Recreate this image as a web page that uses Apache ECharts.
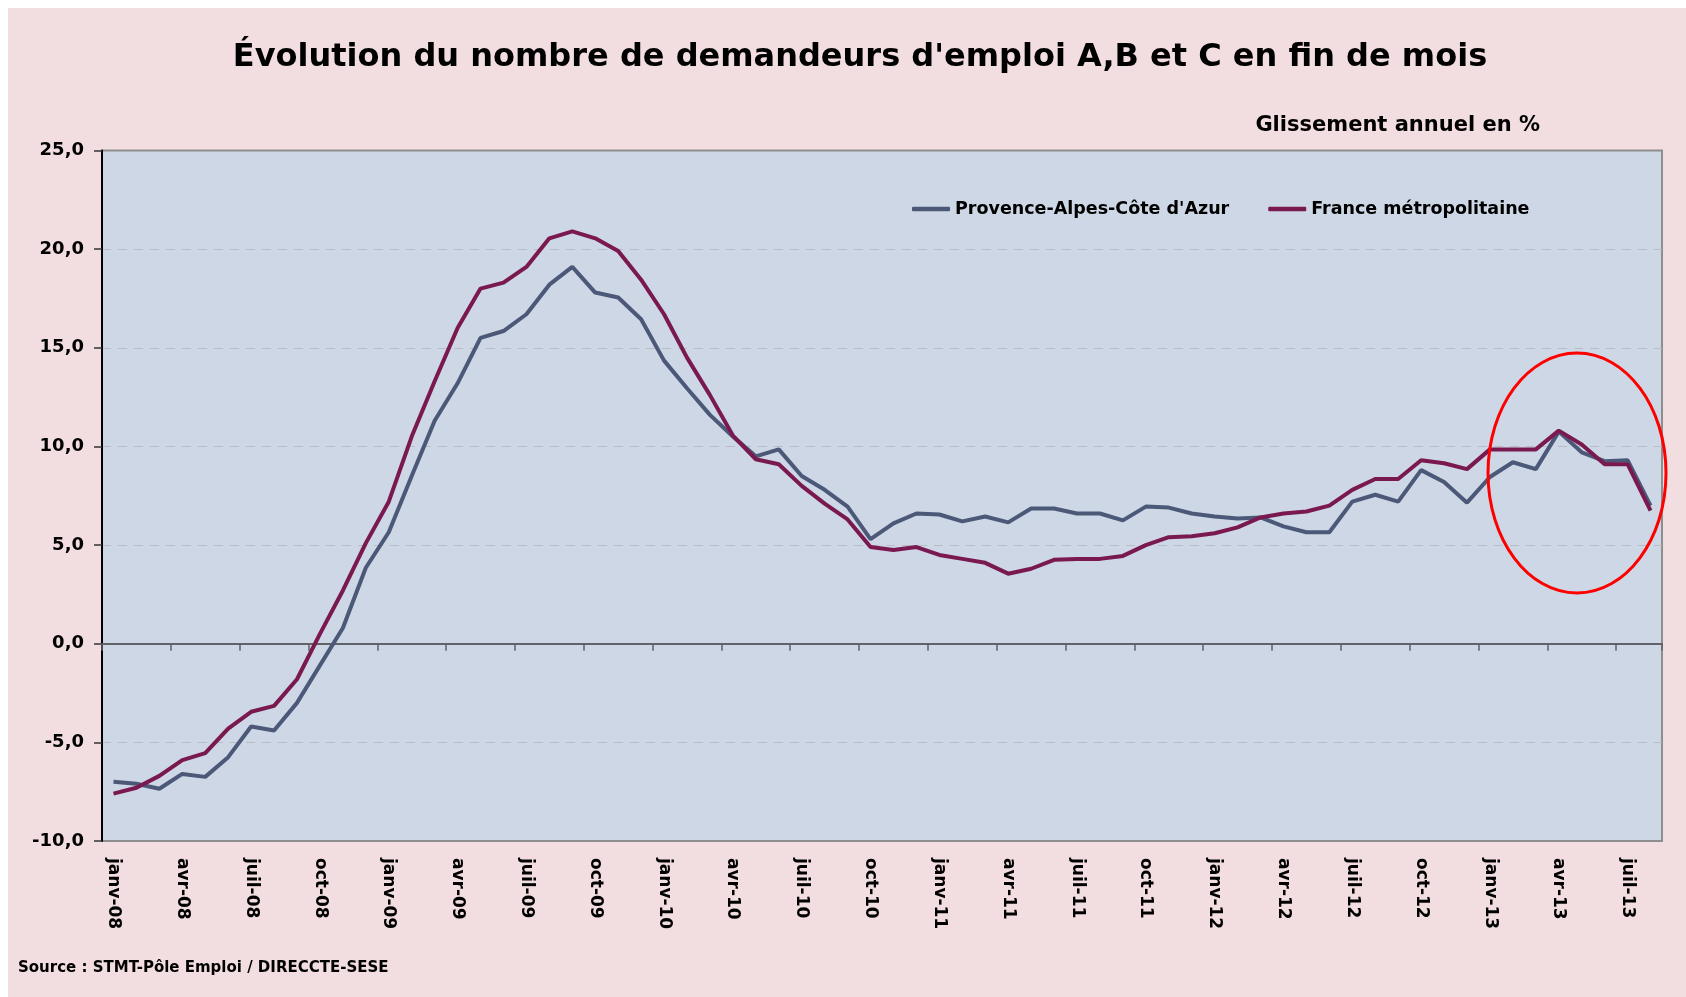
<!DOCTYPE html>
<html>
<head>
<meta charset="utf-8">
<script src="https://cdn.jsdelivr.net/npm/echarts@6/dist/echarts.min.js"></script>
<style>
  html, body { margin: 0; padding: 0; background: #fff; }
  #chart { width: 1686px; height: 997px; }
</style>
</head>
<body>
<div id="chart"></div>
<script>
// mois (format Excel mmm-aa)
const months = [
  'janv-08', 'févr-08', 'mars-08', 'avr-08', 'mai-08', 'juin-08', 'juil-08', 'août-08', 'sept-08', 'oct-08', 'nov-08', 'déc-08',
  'janv-09', 'févr-09', 'mars-09', 'avr-09', 'mai-09', 'juin-09', 'juil-09', 'août-09', 'sept-09', 'oct-09', 'nov-09', 'déc-09',
  'janv-10', 'févr-10', 'mars-10', 'avr-10', 'mai-10', 'juin-10', 'juil-10', 'août-10', 'sept-10', 'oct-10', 'nov-10', 'déc-10',
  'janv-11', 'févr-11', 'mars-11', 'avr-11', 'mai-11', 'juin-11', 'juil-11', 'août-11', 'sept-11', 'oct-11', 'nov-11', 'déc-11',
  'janv-12', 'févr-12', 'mars-12', 'avr-12', 'mai-12', 'juin-12', 'juil-12', 'août-12', 'sept-12', 'oct-12', 'nov-12', 'déc-12',
  'janv-13', 'févr-13', 'mars-13', 'avr-13', 'mai-13', 'juin-13', 'juil-13', 'août-13'
]

// glissement annuel en %
const paca = [
  -7.0, -7.1, -7.35, -6.6, -6.75, -5.75, -4.2, -4.4, -3.0, -1.1, 0.8, 3.85,
  5.65, 8.5, 11.3, 13.2, 15.5, 15.85, 16.7, 18.2, 19.1, 17.8, 17.55, 16.45,
  14.35, 12.95, 11.6, 10.5, 9.5, 9.85, 8.5, 7.8, 6.95, 5.3, 6.1, 6.6,
  6.55, 6.2, 6.45, 6.15, 6.85, 6.85, 6.6, 6.6, 6.25, 6.95, 6.9, 6.6,
  6.45, 6.35, 6.4, 5.95, 5.65, 5.65, 7.2, 7.55, 7.2, 8.8, 8.2, 7.15,
  8.45, 9.2, 8.85, 10.75, 9.7, 9.25, 9.3, 7.0
]
const france = [
  -7.6, -7.3, -6.7, -5.9, -5.55, -4.3, -3.45, -3.15, -1.8, 0.5, 2.7, 5.1,
  7.2, 10.5, 13.3, 16.0, 18.0, 18.3, 19.1, 20.55, 20.9, 20.55, 19.9, 18.45,
  16.7, 14.5, 12.6, 10.55, 9.35, 9.1, 8.0, 7.1, 6.3, 4.9, 4.75, 4.9,
  4.5, 4.3, 4.1, 3.55, 3.8, 4.25, 4.3, 4.3, 4.45, 5.0, 5.4, 5.45,
  5.6, 5.9, 6.4, 6.6, 6.7, 7.0, 7.8, 8.35, 8.35, 9.3, 9.15, 8.85,
  9.85, 9.85, 9.85, 10.8, 10.1, 9.1, 9.1, 6.75
]

const font = 'DejaVu Sans'

const chart = echarts.init(document.getElementById('chart'))
chart.setOption({
  backgroundColor: '#ffffff',
  animation: false,
  textStyle: { fontFamily: font },
  title: [
    {
      text: "Évolution du nombre de demandeurs d'emploi A,B et C en fin de mois",
      left: 855,
      top: 37,
      textAlign: 'center',
      textStyle: { fontFamily: font, fontSize: 32, fontWeight: 'bold', color: '#000' }
    },
    {
      text: 'Glissement annuel en %',
      right: 141,
      top: 110,
      textStyle: { fontFamily: font, fontSize: 21, fontWeight: 'bold', color: '#000' }
    },
    {
      text: 'Source : STMT-Pôle Emploi / DIRECCTE-SESE',
      left: 13,
      top: 956,
      textStyle: { fontFamily: font, fontSize: 15, fontWeight: 'bold', color: '#000' }
    }
  ],
  legend: {
    left: 907,
    top: 195,
    icon: 'roundRect',
    itemWidth: 38,
    itemHeight: 4.5,
    itemGap: 39,
    textStyle: { fontFamily: font, fontSize: 17.5, fontWeight: 'bold', color: '#000' },
    data: ["Provence-Alpes-Côte d'Azur", 'France métropolitaine']
  },
  grid: {
    left: 102,
    right: 24,
    top: 150.5,
    bottom: 156,
    show: true,
    backgroundColor: '#cdd7e5',
    borderColor: '#8e8e8e',
    borderWidth: 2
  },
  xAxis: [
    {
      // axe sur la ligne du zéro : trait + graduations
      type: 'category',
      data: months,
      boundaryGap: true,
      axisLine: { onZero: true, lineStyle: { color: '#5f6368', width: 2 } },
      axisTick: { show: true, interval: 2, length: 7, lineStyle: { color: '#5f6368', width: 1.5 } },
      axisLabel: { show: false },
      splitLine: { show: false }
    },
    {
      // libellés en bas du graphique
      type: 'category',
      data: months,
      position: 'bottom',
      boundaryGap: true,
      axisLine: { show: false, onZero: false },
      axisTick: { show: false },
      axisLabel: {
        interval: 2,
        rotate: -90,
        margin: 17,
        fontFamily: font,
        fontSize: 17,
        fontWeight: 'bold',
        color: '#000'
      },
      splitLine: { show: false }
    }
  ],
  yAxis: {
    type: 'value',
    min: -10,
    max: 25,
    interval: 5,
    axisLine: { show: true, onZero: false, lineStyle: { color: '#000', width: 2 } },
    axisTick: { show: true, length: 8, lineStyle: { color: '#333', width: 1.5 } },
    axisLabel: {
      margin: 18,
      fontFamily: font,
      fontSize: 18,
      fontWeight: 'bold',
      color: '#000',
      formatter: v => v.toFixed(1).replace('.', ',')
    },
    splitLine: {
      show: true,
      showMinLine: false,
      showMaxLine: false,
      lineStyle: { color: '#b9bcc2', type: [9, 7], width: 1 }
    }
  },
  series: [
    {
      name: "Provence-Alpes-Côte d'Azur",
      type: 'line',
      xAxisIndex: 0,
      data: paca,
      symbol: 'none',
      lineStyle: { color: '#4b5878', width: 4 },
      itemStyle: { color: '#4b5878' },
      z: 3
    },
    {
      name: 'France métropolitaine',
      type: 'line',
      xAxisIndex: 0,
      data: france,
      symbol: 'none',
      lineStyle: { color: '#7a1850', width: 4 },
      itemStyle: { color: '#7a1850' },
      z: 4
    }
  ],
  graphic: [
    {
      type: 'rect',
      silent: true,
      z: -100,
      shape: { x: 8, y: 8, width: 1678, height: 989 },
      style: { fill: '#f2dde0' }
    },
    {
      // ellipse rouge autour des derniers mois
      type: 'ellipse',
      silent: true,
      z: 100,
      shape: { cx: 1577, cy: 473, rx: 89, ry: 120 },
      style: { fill: null, stroke: '#ff0000', lineWidth: 3 }
    }
  ]
})
</script>
</body>
</html>
